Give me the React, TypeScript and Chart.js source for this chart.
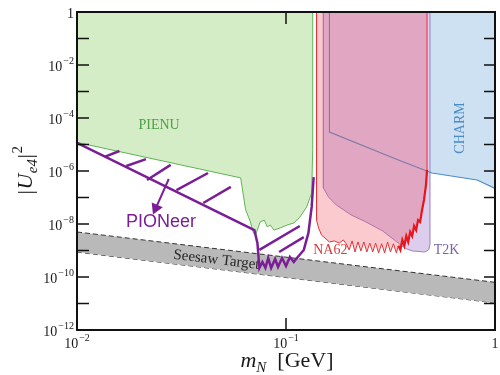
import React, { useEffect, useRef } from "react";
import { Chart, registerables } from "chart.js";

Chart.register(...registerables);

type Pt = [number, number];

// PIENU exclusion boundary: [m_N (GeV), |U_e4|^2]
const pienuBound: Pt[] = [
  [0.01, 1.2e-5], [0.0607, 5.5e-7], [0.0641, 3.4e-8], [0.0676, 1.2e-8], [0.0698, 4.6e-9],
  [0.0714, 3.8e-9], [0.0753, 1.2e-8], [0.0787, 1.4e-8], [0.0813, 7.8e-9], [0.0841, 9.1e-9],
  [0.0877, 5.9e-9], [0.0938, 7.1e-9], [0.1012, 9.1e-9], [0.1091, 1.1e-8], [0.1164, 1.8e-8],
  [0.1256, 4.4e-8], [0.1327, 1.5e-7], [0.1342, 6.3e-6], [0.1342, 1],
];

// NA62 exclusion boundary
const na62Bound: Pt[] = [
  [0.14, 1], [0.14, 1.4e-8], [0.1432, 7.1e-9], [0.148, 3.8e-9], [0.1614, 2.1e-9],
  [0.1702, 2.3e-9], [0.1798, 1.9e-9], [0.188, 2.5e-9], [0.1941, 1.8e-9],
  [0.2005, 1.05e-9], [0.2071, 2.3e-9], [0.2139, 8.8e-10], [0.2209, 2.1e-9], [0.2282, 9.6e-10],
  [0.2358, 2.1e-9], [0.2436, 8.8e-10], [0.2517, 1.9e-9], [0.26, 8.8e-10], [0.2685, 1.9e-9],
  [0.2773, 8.1e-10], [0.2869, 1.8e-9], [0.2965, 8.1e-10], [0.3062, 2.1e-9], [0.3162, 8.8e-10],
  [0.3266, 1.8e-9], [0.3373, 8.1e-10], [0.3451, 1.5e-9], [0.3527, 1.05e-9], [0.3602, 2.5e-9],
  [0.3683, 1.5e-9], [0.3762, 3.5e-9], [0.3843, 2.1e-9], [0.3927, 5e-9], [0.4015, 3.5e-9],
  [0.4102, 8.4e-9], [0.4195, 5.9e-9], [0.4285, 1.4e-8], [0.4382, 1.2e-8], [0.4477, 3.4e-8],
  [0.4575, 8.1e-8], [0.4675, 3.0e-7], [0.473, 1.1e-6], [0.473, 1],
];

// T2K exclusion boundary
const t2kBound: Pt[] = [
  [0.151, 1], [0.151, 2.3e-7], [0.1596, 1.05e-7], [0.1741, 5.2e-8], [0.2048, 2.2e-8],
  [0.241, 1.2e-8], [0.2897, 5.5e-9], [0.3451, 1.9e-9], [0.3724, 1.2e-9], [0.4018, 9.6e-10],
  [0.4627, 8.8e-10], [0.4831, 1.1e-9], [0.4886, 1.8e-9], [0.4886, 1],
];

// CHARM exclusion boundary
const charmBound: Pt[] = [
  [0.1614, 1], [0.1614, 2.96e-5], [0.3451, 2.6e-6], [0.499, 8.4e-7], [0.822, 4.6e-7], [1, 2.2e-7],
];

// Seesaw target band edges
const seesawUpper: Pt[] = [[0.01, 5e-9], [1, 6.3e-11]];
const seesawLower: Pt[] = [[0.01, 8.7e-10], [1, 1.05e-11]];

// PIONeer projected sensitivity
const pioneerBound: Pt[] = [
  [0.01, 1.15e-5], [0.0706, 5.9e-9], [0.073, 1.9e-9], [0.0746, 2.2e-10], [0.0771, 3.7e-10],
  [0.0797, 2.2e-10], [0.0822, 5.2e-10], [0.0849, 2.2e-10], [0.0887, 4.8e-10], [0.0916, 2.4e-10],
  [0.0957, 5.2e-10], [0.1, 2.6e-10], [0.1044, 5.7e-10], [0.109, 3.7e-10], [0.1128, 5.2e-10],
  [0.1217, 1.05e-9], [0.128, 4.6e-9], [0.1327, 4.4e-8], [0.1356, 5.9e-7],
];

// PIONeer hatch strokes: [start, end]
const pioneerHatches: [Pt, Pt][] = [
  [[0.01355, 3.4e-6], [0.01596, 5.7e-6]],
  [[0.01722, 1.55e-6], [0.02138, 2.8e-6]],
  [[0.02163, 4.6e-7], [0.02806, 1.7e-6]],
  [[0.02992, 1.9e-7], [0.04236, 8.4e-7]],
  [[0.04018, 6.2e-8], [0.05445, 2.5e-7]],
  [[0.0746, 1.05e-9], [0.1164, 8.4e-9]],
  [[0.0927, 8.8e-10], [0.1216, 3.2e-9]],
];

const pioneerArrow: Pt[] = [[0.02748, 5.0e-7], [0.02383, 4.0e-8]];

const yTickExps = [0, -1, -2, -3, -4, -5, -6, -7, -8, -9, -10, -11, -12];
const yLabelExps = [0, -2, -4, -6, -8, -10, -12];
const xTickExps = [-2, -1, 0];

const PURPLE = "rgb(122,30,150)";
const SERIF = '"Liberation Serif", "DejaVu Serif", serif';
const SANS = '"Liberation Sans", Arial, sans-serif';

const toXY = (pts: Pt[]) => pts.map(([x, y]) => ({ x, y }));
const na62Dense = na62Bound.filter(([x, y]) => x >= 0.345 && y < 1);

function drawPow(ctx: CanvasRenderingContext2D, exp: number, anchorX: number, baseY: number, align: "right" | "center") {
  if (exp === 0) {
    ctx.font = `14px ${SERIF}`;
    const w = ctx.measureText("1").width;
    const sx = align === "right" ? anchorX - w : anchorX - w / 2;
    ctx.fillText("1", sx, baseY);
    return;
  }
  const sup = "\u2212" + Math.abs(exp);
  ctx.font = `14px ${SERIF}`;
  const wb = ctx.measureText("10").width;
  ctx.font = `10px ${SERIF}`;
  const ws = ctx.measureText(sup).width;
  const total = wb + 1 + ws;
  const sx = align === "right" ? anchorX - total : anchorX - total / 2;
  ctx.font = `14px ${SERIF}`;
  ctx.fillText("10", sx, baseY);
  ctx.font = `10px ${SERIF}`;
  ctx.fillText(sup, sx + wb + 1, baseY - 7);
}

export default function App() {
  const ref = useRef<HTMLCanvasElement | null>(null);

  useEffect(() => {
    if (!ref.current) return;

    const upperIndex = 5;

    const overlay = {
      id: "overlay",
      afterDatasetDraw(chart: any, args: any) {
        if (args.index !== upperIndex) return;
        const ctx = chart.ctx as CanvasRenderingContext2D;
        const xs = chart.scales.x;
        const ys = chart.scales.y;
        const ux0 = xs.getPixelForValue(seesawUpper[0][0]);
        const uy0 = ys.getPixelForValue(seesawUpper[0][1]);
        const ux1 = xs.getPixelForValue(seesawUpper[1][0]);
        const uy1 = ys.getPixelForValue(seesawUpper[1][1]);
        const ly0 = ys.getPixelForValue(seesawLower[0][1]);
        const ly1 = ys.getPixelForValue(seesawLower[1][1]);
        const ang = Math.atan2(uy1 - uy0, ux1 - ux0);
        const tx = xs.getPixelForValue(0.029);
        const t = (tx - ux0) / (ux1 - ux0);
        const cy = ((uy0 + (uy1 - uy0) * t) + (ly0 + (ly1 - ly0) * t)) / 2;
        ctx.save();
        ctx.translate(tx, cy);
        ctx.rotate(ang);
        ctx.font = `15px ${SERIF}`;
        ctx.fillStyle = "#262626";
        ctx.textAlign = "left";
        ctx.textBaseline = "middle";
        ctx.fillText("Seesaw Target", 0, 1);
        ctx.restore();
      },
      afterDatasetsDraw(chart: any) {
        const ctx = chart.ctx as CanvasRenderingContext2D;
        const X = (v: number) => chart.scales.x.getPixelForValue(v);
        const Y = (v: number) => chart.scales.y.getPixelForValue(v);
        ctx.save();
        ctx.textAlign = "center";
        ctx.textBaseline = "middle";
        ctx.font = `14px ${SERIF}`;
        ctx.fillStyle = "#4f9f45";
        ctx.fillText("PIENU", X(0.0247), Y(5.5e-5));
        ctx.save();
        ctx.translate(X(0.684), Y(4.2e-5));
        ctx.rotate(-Math.PI / 2);
        ctx.fillStyle = "#4a8cc8";
        ctx.fillText("CHARM", 0, 0);
        ctx.restore();
        ctx.fillStyle = "#d83a3a";
        ctx.fillText("NA62", X(0.163), Y(1.05e-9));
        ctx.fillStyle = "#7c63a6";
        ctx.fillText("T2K", X(0.587), Y(1.05e-9));
        ctx.font = `18px ${SANS}`;
        ctx.fillStyle = PURPLE;
        ctx.fillText("PIONeer", X(0.0252), Y(1.2e-8));
        ctx.restore();
      },
      afterDraw(chart: any) {
        const ctx = chart.ctx as CanvasRenderingContext2D;
        const ca = chart.chartArea;
        const X = (v: number) => chart.scales.x.getPixelForValue(v);
        const Y = (v: number) => chart.scales.y.getPixelForValue(v);
        ctx.save();
        ctx.strokeStyle = "#111";
        ctx.lineWidth = 1.5;
        ctx.beginPath();
        for (const e of yTickExps) {
          const py = Y(Math.pow(10, e));
          ctx.moveTo(ca.left, py);
          ctx.lineTo(ca.left + 12, py);
          ctx.moveTo(ca.right - 11, py);
          ctx.lineTo(ca.right, py);
        }
        for (const e of xTickExps) {
          const px = X(Math.pow(10, e));
          ctx.moveTo(px, ca.bottom);
          ctx.lineTo(px, ca.bottom - 12);
          ctx.moveTo(px, ca.top);
          ctx.lineTo(px, ca.top + 12);
        }
        ctx.stroke();
        ctx.lineWidth = 2;
        ctx.strokeRect(ca.left, ca.top, ca.right - ca.left, ca.bottom - ca.top);

        ctx.fillStyle = "#1a1a1a";
        ctx.textAlign = "left";
        ctx.textBaseline = "alphabetic";
        for (const e of yLabelExps) {
          drawPow(ctx, e, ca.left - 3, Y(Math.pow(10, e)) + 6, "right");
        }
        for (const e of xTickExps) {
          drawPow(ctx, e, X(Math.pow(10, e)), ca.bottom + 18, "center");
        }

        // x title: m_N [GeV]
        const xParts: [string, string, number][] = [
          ["m", `italic 22px ${SERIF}`, 0],
          ["N", `italic 15px ${SERIF}`, 5],
          ["  [GeV]", `22px ${SERIF}`, 0],
        ];
        let tw = 0;
        for (const [s, f] of xParts) { ctx.font = f; tw += ctx.measureText(s).width; }
        let cx = (ca.left + ca.right) / 2 + 1 - tw / 2;
        const by = ca.bottom + 37;
        for (const [s, f, dy] of xParts) {
          ctx.font = f;
          ctx.fillText(s, cx, by + dy);
          cx += ctx.measureText(s).width;
        }

        // y title: |U_e4|^2
        const yParts: [string, string, number][] = [
          ["|", `22px ${SERIF}`, 0],
          ["U", `italic 22px ${SERIF}`, 0],
          ["e4", `italic 15px ${SERIF}`, 5],
          ["|", `22px ${SERIF}`, 0],
          ["2", `15px ${SERIF}`, -10],
        ];
        let th = 0;
        for (const [s, f] of yParts) { ctx.font = f; th += ctx.measureText(s).width + 0.5; }
        ctx.save();
        ctx.translate(32, 170);
        ctx.rotate(-Math.PI / 2);
        let tx = -th / 2;
        for (const [s, f, dy] of yParts) {
          ctx.font = f;
          ctx.fillText(s, tx, dy);
          tx += ctx.measureText(s).width + 0.5;
        }
        ctx.restore();
        ctx.restore();
      },
    };

    const line = (extra: any) => ({
      showLine: true,
      pointRadius: 0,
      tension: 0,
      fill: false,
      ...extra,
    });

    const datasets: any[] = [
      line({ label: "CHARM", data: toXY(charmBound), fill: "end", backgroundColor: "#cde1f2", borderWidth: 0, borderColor: "rgba(0,0,0,0)", order: 10 }),
      line({ label: "T2K", data: toXY(t2kBound), fill: "end", backgroundColor: "#dccdec", borderColor: "#9b82c6", borderWidth: 1, order: 9 }),
      line({ label: "CHARM edge", data: toXY(charmBound), borderColor: "#4a8cc8", borderWidth: 1.1, order: 8.5 }),
      line({ label: "NA62", data: toXY(na62Bound), fill: "end", backgroundColor: "rgba(240,80,95,0.3)", borderColor: "#e2333a", borderWidth: 1, order: 8 }),
      line({ label: "PIENU", data: toXY(pienuBound), fill: "end", backgroundColor: "#d5edc6", borderColor: "#5fb455", borderWidth: 1, order: 7 }),
      line({ label: "Seesaw upper", data: toXY(seesawUpper), fill: "+1", backgroundColor: "#b9b9b9", borderColor: "#333", borderWidth: 1, borderDash: [5, 3], order: 6 }),
      line({ label: "Seesaw lower", data: toXY(seesawLower), borderColor: "#333", borderWidth: 1, borderDash: [5, 3], order: 6.1 }),
      line({ label: "NA62 dense", data: toXY(na62Dense), borderColor: "#e8161b", borderWidth: 2.2, order: 4 }),
      line({ label: "PIONeer", data: toXY(pioneerBound), borderColor: PURPLE, borderWidth: 2.5, order: 1 }),
      ...pioneerHatches.map((h, i) =>
        line({ label: "hatch" + i, data: toXY(h), borderColor: PURPLE, borderWidth: 2.5, order: 1 })
      ),
      line({
        label: "arrow",
        data: toXY(pioneerArrow),
        borderColor: PURPLE,
        borderWidth: 2,
        pointRadius: [0, 5],
        pointStyle: "triangle",
        pointRotation: [0, 204],
        pointBackgroundColor: PURPLE,
        pointBorderColor: PURPLE,
        order: 1,
      }),
    ];

    const chart = new Chart(ref.current, {
      type: "scatter",
      data: { datasets },
      options: {
        responsive: false,
        animation: false,
        events: [],
        layout: { padding: { left: 77, top: 12, right: 1, bottom: 45 } },
        plugins: { legend: { display: false }, tooltip: { enabled: false } },
        scales: {
          x: { type: "logarithmic", min: 0.01, max: 1, display: false },
          y: { type: "logarithmic", min: 1e-12, max: 1, display: false },
        },
      },
      plugins: [overlay],
    } as any);

    return () => chart.destroy();
  }, []);

  return (
    <div style={{ position: "fixed", left: 0, top: 0, width: 500, height: 375, overflow: "hidden", background: "#fff" }}>
      <canvas ref={ref} width={502} height={375} style={{ width: 502, height: 375, display: "block" }} />
    </div>
  );
}
